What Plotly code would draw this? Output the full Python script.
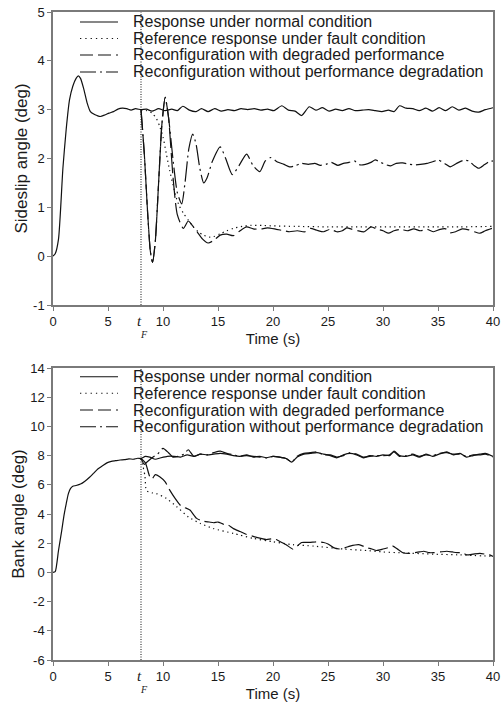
import plotly.graph_objects as go

# ---------------- DATA ----------------
# Sideslip angle (deg), top panel
t_pre_beta = [0, 0.2, 0.5, 0.9, 1.2, 1.5, 1.8, 2.1, 2.3, 2.5, 2.8, 3.1, 3.4, 3.7, 4.0, 4.3,
              4.7, 5.1, 5.5, 5.9, 6.3, 6.7, 7.1, 7.5, 8.0]
beta_pre = [0, 0.05, 0.35, 1.8, 2.6, 3.2, 3.48, 3.64, 3.69, 3.64, 3.42, 3.14, 2.96, 2.91, 2.88, 2.86,
            2.89, 2.93, 2.96, 3.01, 3.03, 3.02, 2.99, 3.02, 3.0]

t_beta_normal = [8.5, 9.0, 9.6, 10.2, 10.8, 11.3, 11.8, 12.4, 13.0, 13.5, 14.1, 14.7, 15.3, 15.9,
                 16.5, 17.1, 17.7, 18.3, 18.9, 19.5, 20.1, 20.8, 21.4, 22.0, 22.6, 23.3, 23.9, 24.5,
                 25.1, 25.7, 26.3, 26.9, 27.5, 28.1, 28.7, 29.3, 29.9, 30.5, 31.0, 31.5, 32.1, 32.7,
                 33.3, 33.9, 34.5, 35.1, 35.7, 36.3, 36.9, 37.5, 38.1, 38.7, 39.3, 40.0]
beta_normal = [3.01, 2.97, 3.02, 2.98, 3.01, 2.98, 3.07, 2.99, 2.96, 3.02, 2.96, 3.02, 2.97, 3.0,
               2.98, 3.02, 3.0, 3.02, 2.99, 3.01, 2.98, 3.08, 2.99, 2.97, 2.88, 3.06, 2.99, 3.04,
               2.97, 3.01, 2.98, 3.02, 2.98, 2.99, 3.0, 2.98, 2.96, 2.99, 2.96, 3.08, 3.03, 3.02,
               2.98, 3.03, 2.97, 3.04, 2.98, 3.06, 2.99, 3.03, 2.97, 2.95, 3.0, 3.04]

t_beta_ref = [8.5, 9.0, 9.4, 9.7, 10.0, 10.3, 10.6, 10.9, 11.2, 11.5, 11.85, 12.3, 12.75, 13.2,
              13.7, 14.2, 14.6, 15.2, 15.8, 16.4, 17.2, 18.0, 19.0, 20.0, 22.0, 25.0, 28.0, 31.0,
              34.0, 37.0, 40.0]
beta_ref = [2.98, 2.93, 2.82, 2.66, 2.44, 2.1, 1.76, 1.47, 1.2, 1.02, 0.88, 0.74, 0.6, 0.5,
            0.43, 0.39, 0.4, 0.46, 0.52, 0.57, 0.61, 0.63, 0.63, 0.62, 0.61, 0.6, 0.6, 0.6,
            0.6, 0.6, 0.61]

# shared transient of both reconfigurations right after the fault
t_beta_tr = [8.3, 8.6, 8.85, 9.05, 9.3, 9.6, 9.9, 10.2, 10.5]
beta_tr = [2.1, 0.9, 0.1, -0.13, 0.3, 1.5, 2.7, 3.25, 2.85]

t_beta_deg = [10.9, 11.3, 11.85, 12.3, 12.7, 13.1, 13.6, 14.1, 14.6, 15.2, 15.8, 16.4, 17.0, 17.6,
              18.2, 18.8, 19.5, 20.3, 21.0, 21.5, 22.2, 22.9, 23.4, 24.0, 24.6, 25.2, 25.8, 26.3,
              26.7, 27.2, 27.7, 28.3, 28.9, 29.5, 30.0, 30.5, 31.0, 31.6, 32.2, 32.8, 33.4, 34.0,
              34.6, 35.2, 35.7, 36.1, 36.6, 37.2, 37.8, 38.3, 38.8, 39.3, 39.9]
beta_deg = [1.65, 0.85, 0.57, 0.72, 0.62, 0.5, 0.35, 0.27, 0.32, 0.43, 0.45, 0.42, 0.52, 0.6,
            0.56, 0.55, 0.58, 0.55, 0.52, 0.5, 0.52, 0.5, 0.57, 0.53, 0.5, 0.55, 0.5, 0.52,
            0.58, 0.55, 0.52, 0.5, 0.6, 0.55, 0.52, 0.47, 0.52, 0.55, 0.52, 0.56, 0.52, 0.55,
            0.5, 0.55, 0.56, 0.48, 0.5, 0.56, 0.54, 0.5, 0.47, 0.52, 0.57]

t_beta_nodeg = [10.9, 11.3, 11.7, 12.0, 12.35, 12.7, 13.0, 13.35, 13.7, 14.0, 14.5, 15.2, 15.7,
                16.3, 16.9, 17.6, 18.2, 18.8, 19.3, 19.8, 20.4, 21.0, 21.5, 22.0, 22.6, 23.2,
                23.8, 24.3, 24.8, 25.3, 25.9, 26.4, 26.9, 27.4, 27.9, 28.4, 28.9, 29.3, 29.8,
                30.3, 30.7, 31.2, 31.8, 32.4, 32.9, 33.4, 34.0, 34.6, 35.0, 35.6, 36.1, 36.7,
                37.3, 37.8, 38.3, 38.7, 39.2, 39.6, 40.0]
beta_nodeg = [2.0, 1.3, 1.07, 1.5, 2.2, 2.5, 2.3, 1.8, 1.5, 1.6, 1.95, 2.24, 2.0,
              1.67, 1.85, 2.09, 1.85, 1.73, 1.95, 2.02, 1.93, 1.88, 1.83, 1.85, 1.9, 1.88,
              1.9, 1.86, 1.88, 1.92, 1.86, 1.9, 1.92, 1.95, 1.87, 1.88, 1.92, 1.97, 1.92,
              1.87, 1.85, 1.9, 1.91, 1.88, 1.87, 1.88, 1.9, 1.94, 1.97, 1.9, 1.83, 1.9,
              1.96, 1.95, 1.85, 1.8, 1.87, 1.93, 1.95]

# Bank angle (deg), bottom panel
t_pre_phi = [0, 0.2, 0.5, 0.8, 1.0, 1.2, 1.4, 1.6, 1.8, 2.1, 2.5, 2.9, 3.3, 3.7, 4.1, 4.5,
             4.9, 5.3, 5.7, 6.1, 6.5, 6.9, 7.3, 7.7, 8.0]
phi_pre = [0, 0.05, 1.5, 2.9, 3.9, 4.7, 5.4, 5.75, 5.9, 5.95, 6.05, 6.25, 6.5, 6.8, 7.1, 7.3,
           7.5, 7.6, 7.65, 7.7, 7.72, 7.78, 7.75, 7.82, 7.8]

t_phi_normal = [8.4, 8.8, 9.3, 9.8, 10.4, 11.0, 11.6, 12.2, 12.8, 13.4, 14.0, 14.6, 15.2, 15.8,
                16.4, 17.0, 17.6, 18.2, 18.8, 19.4, 20.0, 20.6, 21.2, 21.7, 22.2, 22.8, 23.4,
                24.0, 24.6, 25.2, 25.8, 26.4, 27.0, 27.6, 28.2, 28.8, 29.4, 30.0, 30.6, 31.0,
                31.5, 32.1, 32.7, 33.3, 33.9, 34.5, 35.1, 35.8, 36.4, 37.0, 37.6, 38.2, 38.8,
                39.3, 40.0]
phi_normal = [7.95, 7.9, 7.75, 7.85, 7.95, 7.95, 7.9, 8.05, 7.95, 8.1, 8.05, 8.1, 8.15, 8.1,
              8.0, 7.95, 8.05, 7.9, 7.95, 7.85, 7.95, 7.9, 7.8, 7.55, 7.9, 8.1, 8.15,
              8.2, 8.1, 8.0, 7.85, 8.05, 8.15, 8.05, 7.85, 8.0, 7.95, 8.05, 8.0, 8.3,
              8.0, 7.95, 8.05, 7.9, 8.1, 7.95, 8.1, 8.25, 8.05, 8.15, 7.9, 8.0, 8.1,
              8.15, 7.95]

t_phi_ref = [8.2, 8.36, 8.5, 9.0, 9.4, 10.3, 11.25, 12.3, 13.4, 14.6, 16.4, 18.2, 20.0, 21.8,
             23.7, 26.4, 28.5, 30.0, 32.0, 34.6, 37.0, 40.0]
phi_ref = [7.2, 6.6, 5.6, 5.45, 5.4, 5.07, 4.5, 3.8, 3.35, 3.0, 2.67, 2.33, 2.1, 1.9,
           1.8, 1.6, 1.5, 1.4, 1.33, 1.25, 1.2, 1.1]

t_phi_deg = [8.4, 8.8, 9.0, 9.3, 9.7, 10.2, 10.6, 11.1, 11.7, 12.1, 12.45, 13.06, 13.7, 14.2,
             14.6, 15.0, 15.5, 15.9, 16.4, 17.0, 17.6, 18.2, 18.8, 19.4, 19.9, 20.3, 20.8,
             21.2, 21.8, 22.2, 22.6, 23.3, 24.0, 24.6, 25.0, 25.5, 26.1, 26.6, 27.0, 27.8,
             28.5, 29.0, 29.4, 30.0, 30.5, 30.9, 31.4, 31.8, 32.3, 32.8, 33.3, 33.7, 34.2,
             34.6, 35.2, 35.8, 36.3, 36.7, 37.2, 37.6, 38.2, 38.8, 39.3, 39.7, 40.0]
phi_deg = [7.5, 6.55, 6.4, 6.7, 6.55, 6.2, 5.65, 5.07, 4.5, 4.4, 4.27, 3.7, 3.5, 3.45,
           3.4, 3.45, 3.3, 3.25, 3.0, 2.8, 2.6, 2.47, 2.35, 2.25, 2.3, 2.25, 2.05,
           1.9, 1.6, 1.8, 2.05, 2.05, 2.1, 2.05, 1.95, 1.7, 1.6, 1.7, 1.8, 1.9,
           1.7, 1.6, 1.5, 1.6, 1.7, 1.8, 1.55, 1.35, 1.3, 1.35, 1.4, 1.45, 1.35,
           1.35, 1.4, 1.45, 1.4, 1.35, 1.35, 1.2, 1.25, 1.3, 1.25, 1.2, 1.1]

t_phi_nodeg = [8.3, 8.6, 9.0, 9.5, 10.0, 10.5, 10.9, 11.4, 11.9, 12.3, 12.8, 13.4, 14.0, 14.6,
               15.2, 15.8, 16.4, 17.0, 17.6, 18.2, 18.8, 19.4, 20.0, 20.6, 21.2, 21.7, 22.2,
               22.8, 23.4, 24.0, 24.6, 25.2, 25.8, 26.4, 27.0, 27.6, 28.2, 28.8, 29.4, 30.0,
               30.6, 31.0, 31.5, 32.1, 32.7, 33.3, 33.9, 34.5, 35.1, 35.8, 36.4, 37.0, 37.6,
               38.2, 38.8, 39.3, 40.0]
phi_nodeg = [7.4, 7.6, 7.85, 8.1, 8.5, 8.2, 7.9, 7.95, 8.1, 8.4, 7.95, 8.1, 8.05, 8.2,
             8.3, 8.15, 8.05, 7.95, 8.0, 7.95, 7.9, 7.85, 7.95, 7.9, 7.8, 7.55, 7.95,
             8.15, 8.2, 8.25, 8.05, 8.05, 7.9, 8.0, 8.2, 8.1, 7.9, 7.95, 8.0, 8.0,
             8.05, 8.25, 7.95, 8.0, 8.1, 7.95, 8.05, 8.0, 8.15, 8.2, 8.1, 8.1, 7.95,
             8.05, 8.05, 8.1, 7.9]

t_fault = 8
series_names = ["Response under normal condition",
                "Reference response under fault condition",
                "Reconfiguration with degraded performance",
                "Reconfiguration without performance degradation"]
x_ticks = [0, 5, 10, 15, 20, 25, 30, 35, 40]
beta_ticks = [-1, 0, 1, 2, 3, 4, 5]
phi_ticks = [-6, -4, -2, 0, 2, 4, 6, 8, 10, 12, 14]

# ---------------- STYLE / LAYOUT ----------------
W, H = 502, 711
PL, PR = 53, 493
top_px = (12, 305)
bot_px = (368, 660)
ML, MR, MT, MB = PL, W - PR, top_px[0], H - bot_px[1]
PW = W - ML - MR
PH = H - MT - MB

def py2paper(py):  # page pixel -> paper y
    return (bot_px[1] - py) / PH

def px2paper(px):  # page pixel -> paper x
    return (px - PL) / PW

dash_plot = ["solid", "1.3px,3.5px", "20px,5px", "20px,4px,2px,4px"]
dash_leg = ["solid", "1.3px,4px", "13px,5px", "16px,4px,2px,4px"]
widths = [1.2, 1.2, 1.2, 1.2]
col = "#111111"
txt = "#1a1a1a"
sans = "Liberation Sans, Arial"

fig = go.Figure()

def add_panel(xa, ya, t_pre, y_pre, tn, yn, tr_, yr_, t_deg, y_deg, t_nd, y_nd, tr_shared=None, y_shared=None):
    ts = tr_shared or []
    ys = y_shared or []
    data = [
        (t_pre + tn, y_pre + yn),
        ([t_fault] + tr_, [y_pre[-1]] + yr_),
        ([t_fault] + ts + t_deg, [y_pre[-1]] + ys + y_deg),
        ([t_fault] + ts + t_nd, [y_pre[-1]] + ys + y_nd),
    ]
    for i, (xx, yy) in enumerate(data):
        fig.add_trace(go.Scatter(x=xx, y=yy, mode="lines", name=series_names[i],
                                 showlegend=False, xaxis=xa, yaxis=ya,
                                 line=dict(color=col, width=widths[i], dash=dash_plot[i],
                                           shape="spline", smoothing=0.6)))

add_panel("x", "y", t_pre_beta, beta_pre, t_beta_normal, beta_normal, t_beta_ref, beta_ref,
          t_beta_deg, beta_deg, t_beta_nodeg, beta_nodeg, t_beta_tr, beta_tr)
add_panel("x2", "y2", t_pre_phi, phi_pre, t_phi_normal, phi_normal, t_phi_ref, phi_ref,
          t_phi_deg, phi_deg, t_phi_nodeg, phi_nodeg)

axis_common = dict(showline=True, linecolor="#7a7a7a", linewidth=1.5, mirror=True,
                   ticks="outside", ticklen=4, tickwidth=1, tickcolor="#7a7a7a",
                   showgrid=False, zeroline=False, automargin=False,
                   ticklabeloverflow="allow",
                   tickfont=dict(family=sans, size=13, color=txt))

def ticklabels(vals):
    return [str(v) for v in vals]

fig.update_layout(
    template="none",
    width=W, height=H, margin=dict(l=ML, r=MR, t=MT, b=MB, autoexpand=False),
    paper_bgcolor="white", plot_bgcolor="white", showlegend=False,
    xaxis=dict(domain=[0, 1], anchor="y", range=[0, 40], tickvals=x_ticks, ticktext=ticklabels(x_ticks),
               title=dict(text="Time (s)", standoff=5, font=dict(family=sans, size=15, color=txt)),
               **axis_common),
    yaxis=dict(domain=[py2paper(top_px[1]), py2paper(top_px[0])], anchor="x", range=[-1, 5],
               tickvals=beta_ticks, ticktext=ticklabels(beta_ticks),
               title=dict(text="Sideslip angle (deg)", standoff=1, font=dict(family=sans, size=17, color=txt)),
               **axis_common),
    xaxis2=dict(domain=[0, 1], anchor="y2", range=[0, 40], tickvals=x_ticks, ticktext=ticklabels(x_ticks),
                title=dict(text="Time (s)", standoff=5, font=dict(family=sans, size=15, color=txt)),
                **axis_common),
    yaxis2=dict(domain=[py2paper(bot_px[1]), py2paper(bot_px[0])], anchor="x2", range=[-6, 14],
                tickvals=phi_ticks, ticktext=ticklabels(phi_ticks),
                title=dict(text="Bank angle (deg)", standoff=1, font=dict(family=sans, size=17, color=txt)),
                **axis_common),
)

# fault-time marker and t_F labels
for xa, ya in (("x", "y"), ("x2", "y2")):
    fig.add_shape(type="line", xref=xa, yref=f"{ya} domain", x0=t_fault, x1=t_fault, y0=0, y1=1,
                  line=dict(color="#111111", width=1, dash="1px,1.5px"))
for (y0, y1) in (top_px, bot_px):
    fig.add_annotation(xref="x", yref="paper", x=t_fault - 0.12, y=py2paper(y1 + 16),
                       text="<i>t</i>", showarrow=False, yanchor="middle",
                       font=dict(family="Liberation Serif, Times New Roman", size=15, color=txt))
    fig.add_annotation(xref="x", yref="paper", x=t_fault + 0.25, y=py2paper(y1 + 29),
                       text="<i>F</i>", showarrow=False, yanchor="middle",
                       font=dict(family="Liberation Serif, Times New Roman", size=10, color=txt))

# legends (one per panel)
leg_rows = [[22, 38.5, 55, 72], [376.7, 393.3, 410, 426.7]]
for rows in leg_rows:
    for i, ry in enumerate(rows):
        fig.add_shape(type="line", xref="paper", yref="paper",
                      x0=px2paper(80), x1=px2paper(118), y0=py2paper(ry), y1=py2paper(ry),
                      line=dict(color=col, width=1.1, dash=dash_leg[i]))
        fig.add_annotation(xref="paper", yref="paper", x=px2paper(131), y=py2paper(ry),
                           text=series_names[i], showarrow=False, xanchor="left", yanchor="middle",
                           font=dict(family=sans, size=16, color=txt))

# place the figure at the window corner (no default page margin), no mode bar
fig.write_html("out.html", config={"displayModeBar": False},
               post_script="document.body.style.margin='0';document.body.style.overflow='hidden';")
